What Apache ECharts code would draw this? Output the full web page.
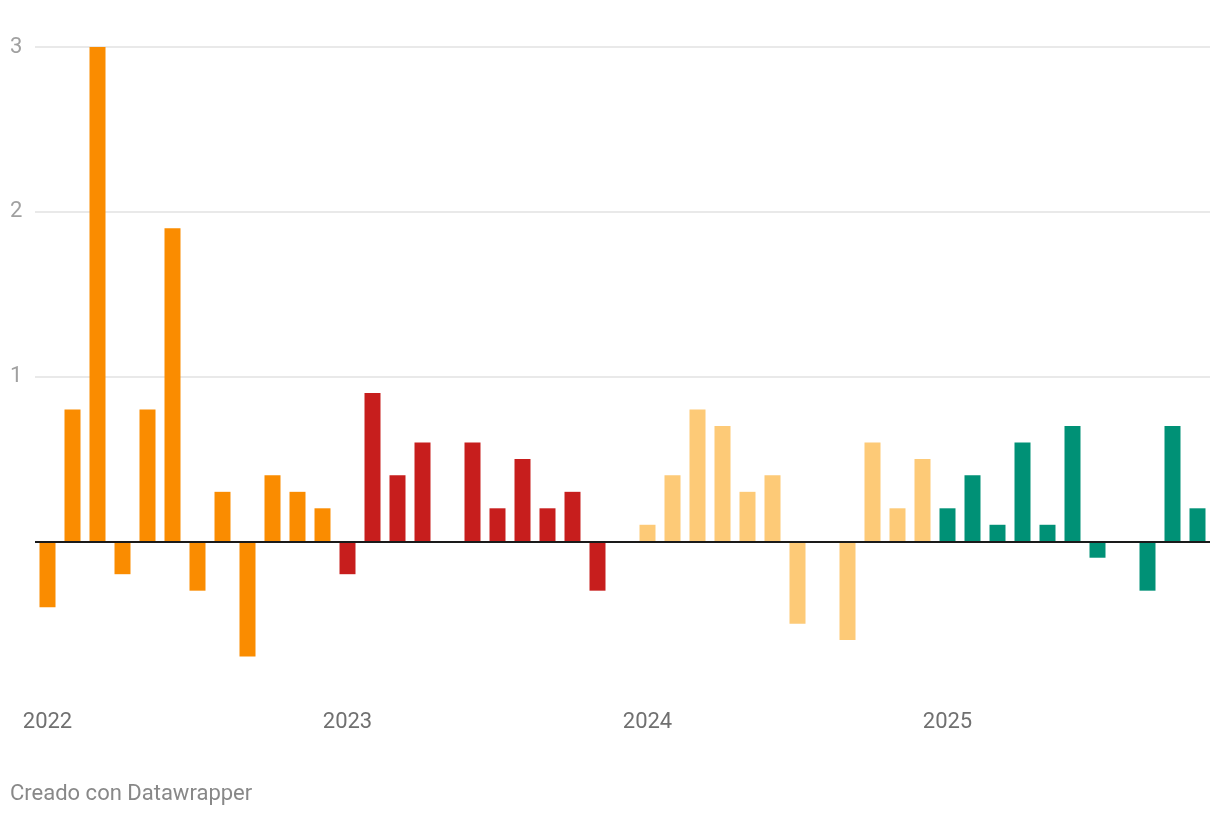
<!DOCTYPE html>
<html><head><meta charset="utf-8">
<script src="https://cdn.jsdelivr.net/npm/echarts@6/dist/echarts.min.js"></script>
<style>html,body{margin:0;padding:0;background:#fff}#c{width:1220px;height:816px}</style>
</head><body><div id="c"></div>
<script>
const years = ['2022','2023','2024','2025'];
const values2022 = [-0.4, 0.8, 3.0, -0.2, 0.8, 1.9, -0.3, 0.3, -0.7, 0.4, 0.3, 0.2];
const values2023 = [-0.2, 0.9, 0.4, 0.6, 0, 0.6, 0.2, 0.5, 0.2, 0.3, -0.3, 0];
const values2024 = [0.1, 0.4, 0.8, 0.7, 0.3, 0.4, -0.5, 0, -0.6, 0.6, 0.2, 0.5];
const values2025 = [0.2, 0.4, 0.1, 0.6, 0.1, 0.7, -0.1, 0, -0.3, 0.7, 0.2];
const yearColors = ['#fa8c00', '#c71e1d', '#fdca77', '#009176'];
const yTicks = [1, 2, 3];

const allValues = [values2022, values2023, values2024, values2025];
const categories = [];
const data = [];
allValues.forEach((arr, yi) => {
  arr.forEach((v, mi) => {
    categories.push(years[yi] + '-' + String(mi + 1).padStart(2, '0'));
    data.push({ value: v, itemStyle: { color: yearColors[yi] } });
  });
});

const chart = echarts.init(document.getElementById('c'));
chart.setOption({
  animation: false,
  textStyle: { fontFamily: 'Roboto' },
  grid: { left: 35, right: 10, top: 47, bottom: 110, containLabel: false },
  xAxis: {
    type: 'category',
    data: categories,
    axisLine: { show: false },
    axisTick: { show: false },
    axisLabel: {
      interval: 0,
      margin: 5,
      fontSize: 22,
      color: '#707070',
      fontFamily: 'Roboto',
      formatter: (v) => v.endsWith('-01') ? v.slice(0, 4) : ''
    }
  },
  yAxis: {
    type: 'value',
    min: -1, max: 3, interval: 1,
    axisLine: { show: false },
    axisTick: { show: false },
    splitLine: { show: true, showMinLine: false, lineStyle: { color: '#e2e2e2', width: 1.5 } },
    axisLabel: {
      fontSize: 22,
      color: '#a0a0a0',
      align: 'left',
      margin: 25,
      fontFamily: 'Roboto',
      formatter: (v) => yTicks.includes(v) ? String(v) : ''
    }
  },
  series: [{
    type: 'bar',
    data: data,
    barWidth: 16,
    markLine: {
      silent: true,
      symbol: 'none',
      label: { show: false },
      lineStyle: { color: '#1a1a1a', width: 2, type: 'solid' },
      data: [{ yAxis: 0 }]
    }
  }],
  graphic: [{
    type: 'text',
    left: 10,
    top: 783,
    style: { text: 'Creado con Datawrapper', fontSize: 22, fill: '#888', fontFamily: 'Roboto' }
  }]
});
</script>
</body></html>
